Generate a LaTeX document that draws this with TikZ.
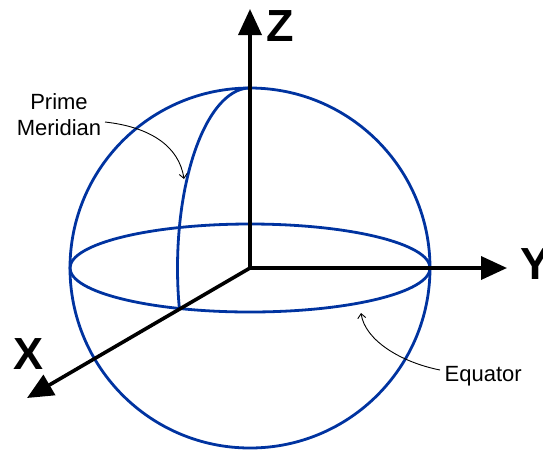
\documentclass[tikz,border=0pt]{standalone}
\usepackage{fontspec}
\setmainfont{Liberation Sans}
\usetikzlibrary{arrows.meta}
\definecolor{sphereblue}{RGB}{0,51,160}
\tikzset{
  blueline/.style={draw=sphereblue, line width=2.8pt},
  axisline/.style={draw=black, line width=3.6pt, -{Triangle[length=26pt,width=23pt]}},
  axislabel/.style={inner sep=0pt, font=\fontsize{45}{45}\selectfont\bfseries},
  callout/.style={inner sep=0pt, font=\fontsize{22}{26}\selectfont},
  pointer/.style={draw=black, line width=0.9pt, -{Straight Barb[length=4.5pt,width=8pt]}}
}
\begin{document}
\begin{tikzpicture}[x=1pt,y=-1pt]
\useasboundingbox (0,0) rectangle (543,451);
\coordinate (O) at (250,268);
% sphere
\draw[blueline] (O) circle[radius=180];
\draw[blueline] (O) ellipse[x radius=180, y radius=44];
\draw[blueline] plot[domain=90:192.5, samples=80, smooth] ({250+72.5*cos(\x)}, {268-180*sin(\x)});
% axes
\coordinate (Ztip) at (250,9);
\coordinate (Ytip) at (507,268);
\coordinate (Xtip) at (27,398);
\draw[axisline] (O) -- (Ztip);
\draw[axisline] (O) -- (Ytip);
\draw[axisline] (O) -- (Xtip);
\node[axislabel] (Zl) at (280,26.5) {Z};
\node[axislabel] (Yl) at (535,264) {Y};
\node[axislabel] (Xl) at (29,354.5) {X};
% callouts
\node[callout, align=center] (pm) at (59,115) {Prime\\Meridian};
\node[callout, anchor=base west] (eq) at (444.5,381) {Equator};
\coordinate (pmstart) at (105,122);
\coordinate (pmtip) at (184,179);
\coordinate (eqstart) at (440,370);
\coordinate (eqtip) at (361,313);
\draw[pointer] (pmstart) .. controls (150,127) and (179,146) .. (pmtip);
\draw[pointer] (eqstart) .. controls (400,362) and (365,340) .. (eqtip);
\end{tikzpicture}
\end{document}
